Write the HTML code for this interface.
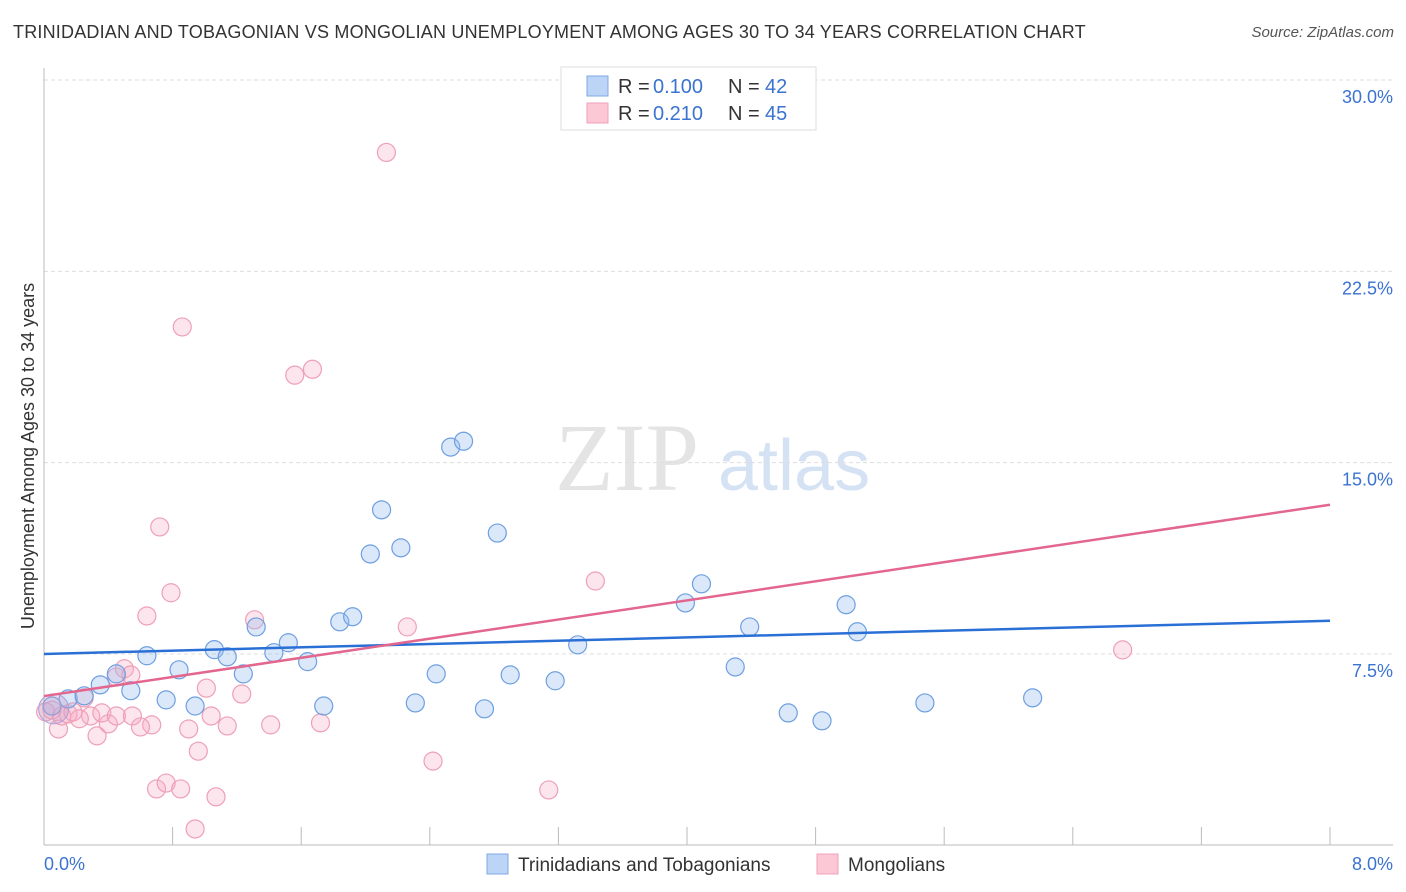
<!DOCTYPE html>
<html><head><meta charset="utf-8"><style>
body{margin:0;background:#fff;font-family:"Liberation Sans",sans-serif;}
#wrap{position:relative;width:1406px;height:892px;overflow:hidden;}
.title{position:absolute;left:13px;top:22px;font-size:18px;color:#333;letter-spacing:0.2px}
.src{position:absolute;right:12px;top:24px;font-size:15px;color:#555;font-style:italic}
</style></head><body>
<div id="wrap">
<div class="title">TRINIDADIAN AND TOBAGONIAN VS MONGOLIAN UNEMPLOYMENT AMONG AGES 30 TO 34 YEARS CORRELATION CHART</div>
<div class="src">Source: ZipAtlas.com</div>
<svg id="svg" width="1406" height="892" style="position:absolute;left:0;top:0"></svg>
</div>
<script>
const yTicks=[7.5,15,22.5,30];
const yTickLabels=["7.5%","15.0%","22.5%","30.0%"];
const xTickLabels=["0.0%","8.0%"];
const blueX=[0.05,0.15,0.25,0.35,0.45,0.54,0.64,0.76,0.84,0.94,1.06,1.14,1.24,1.32,1.43,1.52,1.64,1.74,1.84,1.92,2.03,2.10,2.22,2.31,2.44,2.53,2.61,2.74,2.82,2.90,3.18,3.32,3.99,4.09,4.30,4.39,4.63,4.84,4.99,5.06,5.48,6.15];
const blueY=[5.46,5.74,5.86,6.29,6.72,6.06,7.43,5.70,6.88,5.46,7.67,7.39,6.72,8.56,7.55,7.94,7.20,5.46,8.76,8.96,11.42,13.15,11.66,5.58,6.72,15.61,15.84,5.35,12.24,6.68,6.45,7.86,9.50,10.25,6.99,8.56,5.19,4.88,9.43,8.37,5.58,5.78];
const pinkX=[0.05,0.09,0.15,0.25,0.33,0.40,0.45,0.50,0.54,0.64,0.67,0.70,0.72,0.76,0.79,0.85,0.86,0.90,0.94,0.96,1.01,1.04,1.07,1.14,1.23,1.31,1.41,1.56,1.67,1.72,2.13,2.26,2.42,3.14,3.43,6.71,0.11,0.29,0.36,0.55,0.60,0.45,0.22,0.18,0.01];
const pinkY=[5.30,4.56,5.15,5.78,4.29,4.76,6.60,6.92,6.68,8.99,4.72,2.21,12.48,2.44,9.90,2.21,20.32,4.56,0.64,3.69,6.16,5.07,1.90,4.68,5.93,8.84,4.72,18.43,18.66,4.80,27.16,8.56,3.30,2.17,10.36,7.66,5.07,5.07,5.19,5.07,4.64,5.07,4.96,5.23,5.23];
const blueLine=[7.5,8.8];
const pinkLine=[5.85,13.35];
const X0=44,X1=1330,Y0=845.3,YPX=25.51;
const sx=v=>X0+(X1-X0)*v/8, sy=v=>Y0-v*YPX;
const svg=document.getElementById('svg');
const NS="http://www.w3.org/2000/svg";
function mk(t,a){const e=document.createElementNS(NS,t);for(const k in a)e.setAttribute(k,a[k]);svg.appendChild(e);return e;}
let w=mk('text',{x:555,y:490,'font-size':96,'font-family':'Liberation Serif,serif',fill:'#e4e4e4'});w.textContent='ZIP';


let w2=mk('text',{x:718,y:490,'font-size':72,'font-family':'Liberation Sans,sans-serif',fill:'#d4e2f4'});w2.textContent='atlas';


yTicks.forEach((t,i)=>{
 const g=mk('line',{x1:X0,x2:1393,y1:sy(t),y2:sy(t),stroke:'#ddd','stroke-dasharray':'4,3'});
 
 
 const l=mk('text',{x:1393,y:sy(t)+23,'text-anchor':'end','font-size':18,fill:'#3b73d0'});l.textContent=yTickLabels[i];
 
 
});
let ax=mk('line',{x1:X0,x2:1393,y1:845,y2:845,stroke:'#bbb'});


let ay=mk('line',{x1:X0,x2:X0,y1:68,y2:845,stroke:'#bbb'});


for(let i=1;i<=10;i++){const x=X0+i*(X1-X0)/10;const t=mk('line',{x1:x,x2:x,y1:827,y2:845,stroke:'#bbb'});
 
 }
[[X0,'start',0],[1393,'end',1]].forEach(([x,a,i])=>{const t=mk('text',{x:x,y:870,'text-anchor':a,'font-size':18,fill:'#3b73d0'});t.textContent=xTickLabels[i];
 
 });
let yt=mk('text',{x:0,y:0,'font-size':18,fill:'#333',transform:'translate(34,456) rotate(-90)','text-anchor':'middle'});yt.textContent='Unemployment Among Ages 30 to 34 years';


function pts(xs,ys,fill,stroke,name){xs.forEach((x,i)=>{const c=mk('circle',{cx:sx(x),cy:sy(ys[i]),r:9,fill:fill,stroke:stroke,'stroke-width':1.2});
 
 });}
pts(pinkX,pinkY,'rgba(248,170,195,0.3)','#eea0b8','mongolian-point');
pts(blueX,blueY,'rgba(150,190,240,0.35)','#6e9fe0','trinidadian-point');
let big=mk('circle',{cx:sx(0.06),cy:sy(5.35),r:15,fill:'rgba(200,160,200,0.35)',stroke:'#a8a0d8'});


let bl=mk('line',{x1:X0,x2:X1,y1:sy(blueLine[0]),y2:sy(blueLine[1]),stroke:'#2a6fd6','stroke-width':2.5});


let pl=mk('line',{x1:X0,x2:X1,y1:sy(pinkLine[0]),y2:sy(pinkLine[1]),stroke:'#e3668f','stroke-width':2.5});


let lb=mk('rect',{x:561,y:67,width:255,height:63,fill:'#fff',stroke:'#ddd'});


[[0,'0.100','42','#bcd4f6','#7fa8e4'],[1,'0.210','45','#fcc8d6','#eea0b8']].forEach(([i,r,n,f,s])=>{
 const y=86+i*27;
 const sq=mk('rect',{x:587,y:y-10,width:21,height:20,fill:f,stroke:s});
 
 
 [[618,'R =','#333'],[653,r,'#3b73d0'],[728,'N =','#333'],[765,n,'#3b73d0']].forEach(([x,txt,c])=>{
  const t=mk('text',{x:x,y:y+7,'font-size':20,fill:c});t.textContent=txt;
  
  
 });
});
[[487,'Trinidadians and Tobagonians','#bcd4f6','#7fa8e4'],[817,'Mongolians','#fcc8d6','#eea0b8']].forEach(([x,l,f,s])=>{
 const sq=mk('rect',{x:x,y:854,width:21,height:20,fill:f,stroke:s});
 
 
 const t=mk('text',{x:x+31,y:871,'font-size':19,fill:'#333'});t.textContent=l;
 
 
});
</script>
</body></html>
